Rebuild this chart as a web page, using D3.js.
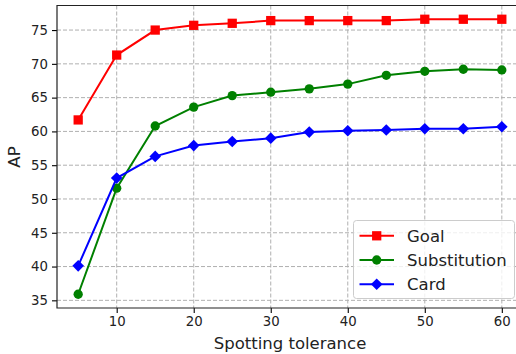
<!DOCTYPE html>
<html>
<head>
<meta charset="utf-8">
<script src="https://cdn.jsdelivr.net/npm/d3@7"></script>
<style>
  body { margin: 0; background: #fff; }
  svg { display: block; font-family: "DejaVu Sans", sans-serif; }
</style>
</head>
<body>
<svg id="chart" width="516" height="354"></svg>
<script>
// spotting tolerance vs AP
var tolerances = [5, 10, 15, 20, 25, 30, 35, 40, 45, 50, 55, 60];
var goal = [61.7, 71.3, 75.0, 75.7, 76.0, 76.4, 76.4, 76.4, 76.4, 76.6, 76.6, 76.6];
var substitution = [35.9, 51.6, 60.8, 63.6, 65.3, 65.8, 66.3, 67.0, 68.3, 68.9, 69.2, 69.1];
var card = [40.1, 53.1, 56.3, 57.9, 58.5, 59.0, 59.9, 60.1, 60.2, 60.4, 60.4, 60.7];

var seriesNames = ['Goal', 'Substitution', 'Card'];
var seriesValues = [goal, substitution, card];
var seriesColors = ['#ff0000', '#008000', '#0000ff'];
var seriesMarkers = ['square', 'circle', 'diamond'];

var xTicks = [10, 20, 30, 40, 50, 60];
var yTicks = [35, 40, 45, 50, 55, 60, 65, 70, 75];

var svg = d3.select('#chart');

// plot box (right spine falls outside the picture)
var pLeft = 57, pRight = 523, pTop = 5.5, pBottom = 308;

// matplotlib style 5% margins
var xExt = d3.extent(tolerances), xPad = (xExt[1] - xExt[0]) * 0.05;
var allY = d3.merge(seriesValues);
var yExt = d3.extent(allY), yPad = (yExt[1] - yExt[0]) * 0.05;

var x = d3.scaleLinear().domain([xExt[0] - xPad, xExt[1] + xPad]).range([pLeft, pRight]);
var y = d3.scaleLinear().domain([yExt[0] - yPad, yExt[1] + yPad]).range([pBottom, pTop]);

// grid
var grid = svg.append('g').attr('class', 'grid');
grid.selectAll('line.gx').data(xTicks).enter().append('line')
    .attr('class', 'gx')
    .attr('x1', d => x(d)).attr('x2', d => x(d))
    .attr('y1', pTop).attr('y2', pBottom);
grid.selectAll('line.gy').data(yTicks).enter().append('line')
    .attr('class', 'gy')
    .attr('x1', pLeft).attr('x2', pRight)
    .attr('y1', d => y(d)).attr('y2', d => y(d));
grid.selectAll('line')
    .attr('stroke', '#b0b0b0')
    .attr('stroke-width', 1)
    .attr('stroke-dasharray', '4,2');

// series
function markerPath(kind) {
  if (kind === 'square') return d3.symbol().type(d3.symbolSquare).size(86)();
  if (kind === 'circle') return d3.symbol().type(d3.symbolCircle).size(68)();
  // diamond: square rotated
  var h = 5.8;
  return 'M0,' + (-h) + 'L' + h + ',0L0,' + h + 'L' + (-h) + ',0Z';
}

var line = d3.line().x(d => x(d[0])).y(d => y(d[1]));

seriesValues.forEach(function(vals, i) {
  var pts = tolerances.map((t, j) => [t, vals[j]]);
  var g = svg.append('g').attr('class', 'series');
  g.append('path')
      .attr('d', line(pts))
      .attr('fill', 'none')
      .attr('stroke', seriesColors[i])
      .attr('stroke-width', 2);
  g.selectAll('path.m').data(pts).enter().append('path')
      .attr('class', 'm')
      .attr('d', markerPath(seriesMarkers[i]))
      .attr('transform', d => 'translate(' + x(d[0]) + ',' + y(d[1]) + ')')
      .attr('fill', seriesColors[i]);
});

// axes
var xAxis = svg.append('g')
    .attr('transform', 'translate(0,' + pBottom + ')')
    .call(d3.axisBottom(x).tickValues(xTicks).tickSize(5).tickPadding(4));
var yAxis = svg.append('g')
    .attr('transform', 'translate(' + pLeft + ',0)')
    .call(d3.axisLeft(y).tickValues(yTicks).tickSize(5).tickPadding(4));

[xAxis, yAxis].forEach(function(a) {
  a.select('.domain').remove();
  a.selectAll('.tick line').attr('stroke', '#000').attr('stroke-width', 1.1);
  a.selectAll('.tick text')
      .attr('fill', '#222')
      .style('font-family', '"DejaVu Sans", sans-serif')
      .style('font-size', '13.3px');
});

// spines
svg.append('path')
    .attr('d', 'M' + pRight + ',' + pTop + 'H' + pLeft + 'V' + pBottom + 'H' + pRight)
    .attr('fill', 'none')
    .attr('stroke', '#222')
    .attr('stroke-width', 1.2);

// labels
svg.append('text')
    .attr('x', (pLeft + pRight) / 2).attr('y', 349)
    .attr('text-anchor', 'middle')
    .attr('fill', '#222')
    .style('font-size', '16.5px')
    .text('Spotting tolerance');

svg.append('text')
    .attr('transform', 'translate(20,157) rotate(-90)')
    .attr('text-anchor', 'middle')
    .attr('fill', '#222')
    .style('font-size', '16.5px')
    .text('AP');

// legend
var legend = svg.append('g').attr('transform', 'translate(353.5,220.5)');
legend.append('rect')
    .attr('width', 161).attr('height', 78)
    .attr('rx', 3).attr('ry', 3)
    .attr('fill', '#fff').attr('fill-opacity', 0.8)
    .attr('stroke', '#cccccc').attr('stroke-width', 1);

var rows = legend.selectAll('g.row').data(seriesNames).enter().append('g')
    .attr('transform', (d, i) => 'translate(0,' + (15.3 + i * 24.2) + ')');
rows.append('line')
    .attr('x1', 6).attr('x2', 40.5)
    .attr('stroke', (d, i) => seriesColors[i])
    .attr('stroke-width', 2);
rows.append('path')
    .attr('d', (d, i) => markerPath(seriesMarkers[i]))
    .attr('transform', 'translate(23.2,0)')
    .attr('fill', (d, i) => seriesColors[i]);
rows.append('text')
    .attr('x', 53.5)
    .attr('dy', '0.35em')
    .attr('fill', '#222')
    .style('font-size', '16.5px')
    .text(d => d);
</script>
</body>
</html>
